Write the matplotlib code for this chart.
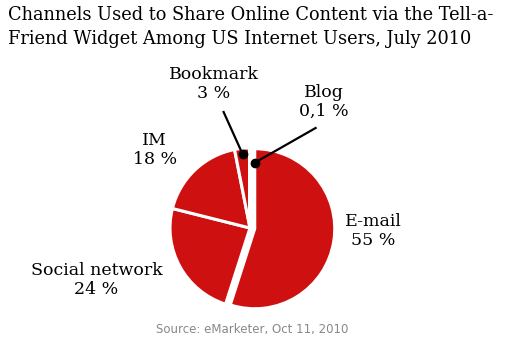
import numpy as np
import matplotlib
matplotlib.use("Agg")
import matplotlib.pyplot as plt

# ─────────────────────────────────────────────
# Data
# ─────────────────────────────────────────────
channels = ["E-mail", "Social network", "IM", "Bookmark", "Blog"]
shares = [55, 24, 18, 3, 0.1]
share_labels = ["55 %", "24 %", "18 %", "3 %", "0,1 %"]

TITLE = ("Channels Used to Share Online Content via the Tell-a-\n"
         "Friend Widget Among US Internet Users, July 2010")
SOURCE = "Source: eMarketer, Oct 11, 2010"

RED = "#CF1010"
SERIF = "DejaVu Serif"

# ─────────────────────────────────────────────
# Figure
# ─────────────────────────────────────────────
W, H = 510, 350
fig = plt.figure(figsize=(W / 100, H / 100), dpi=100)

# pie axes: 200x200 px box centred at (250, 228), 80 px per unit
cx, cy, box = 250, 228, 200
ax = fig.add_axes([(cx - box / 2) / W, (H - cy - box / 2) / H, box / W, box / H])
ax.set_xlim(-1.25, 1.25)
ax.set_ylim(-1.25, 1.25)
ax.set_aspect("equal")
ax.axis("off")

explode = [0.06, 0, 0, 0, 0]
wedges, _ = ax.pie(shares, startangle=90, counterclock=False, explode=explode,
                   colors=[RED] * len(shares), radius=1.0,
                   wedgeprops=dict(edgecolor="white", linewidth=2.2))

# labels placed beside their slices
label_pos = {
    "E-mail": (1.54, -0.04),
    "Social network": (-1.92, -0.65),
    "IM": (-1.19, 0.97),
    "Bookmark": (-0.45, 1.80),
    "Blog": (0.92, 1.58),
}
for name, pct in zip(channels, share_labels):
    x, y = label_pos[name]
    ax.text(x, y, f"{name}\n{pct}", ha="center", va="center", fontsize=12.5,
            family=SERIF, linespacing=1.15, clip_on=False)

# leader lines with dots for the two thin slices
leaders = {
    "Bookmark": ((-0.33, 1.45), 0.93, 0),
    "Blog": ((0.82, 1.25), 0.82, -4.5),
}
for w, name in zip(wedges, channels):
    if name not in leaders:
        continue
    (lx, ly), r, dtheta = leaders[name]
    theta = np.deg2rad((w.theta1 + w.theta2) / 2 + dtheta)
    px, py = r * np.cos(theta), r * np.sin(theta)
    ax.plot([lx, px], [ly, py], color="black", lw=1.6, clip_on=False)
    ax.plot(px, py, "o", color="black", ms=6, clip_on=False)

# ─────────────────────────────────────────────
# Title and source
# ─────────────────────────────────────────────
fig.text(8 / W, 1 - 6 / H, TITLE, ha="left", va="top", fontsize=12.8,
         family=SERIF, linespacing=1.4)
fig.text(252 / W, 1 - 330 / H, SOURCE, ha="center", va="center",
         fontsize=8.5, color="#888888", family="DejaVu Sans")

fig.savefig("out.png", dpi=100)
